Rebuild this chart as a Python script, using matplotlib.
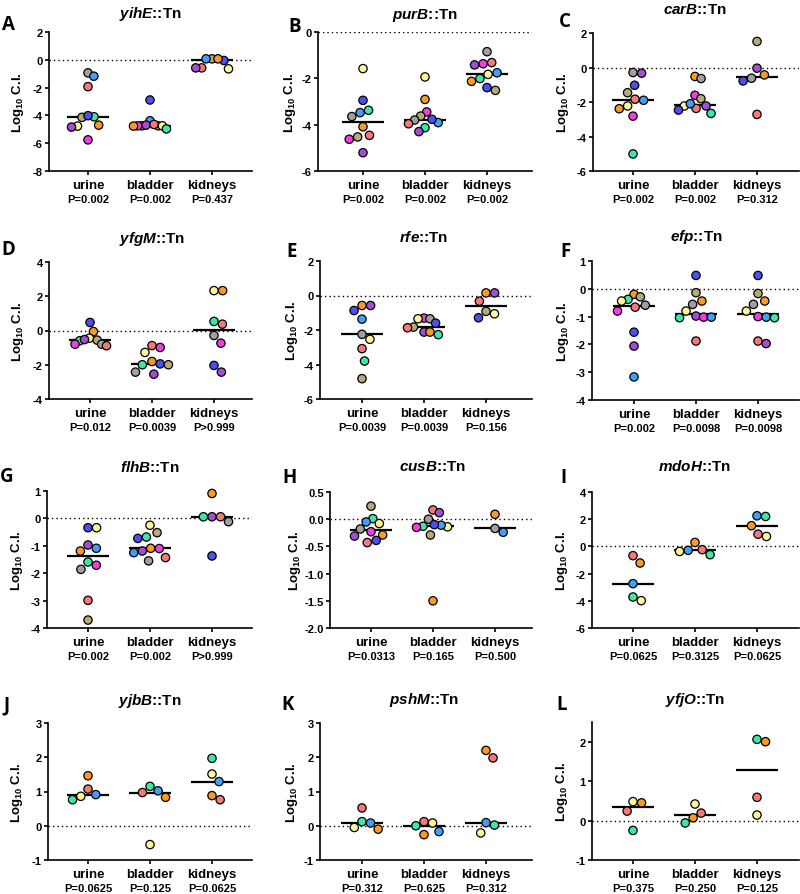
import numpy as np
import matplotlib
matplotlib.use('Agg')
import matplotlib.pyplot as plt
from matplotlib.ticker import FormatStrFormatter

plt.rcParams['font.family'] = ['Liberation Sans', 'DejaVu Sans']
plt.rcParams['font.weight'] = 'bold'
plt.rcParams['axes.unicode_minus'] = False
plt.rcParams['mathtext.fontset'] = 'custom'
plt.rcParams['mathtext.rm'] = 'Liberation Sans:bold'
plt.rcParams['mathtext.it'] = 'Liberation Sans:italic:bold'
plt.rcParams['mathtext.bf'] = 'Liberation Sans:bold'

# ---------------- data ----------------
groups = ['urine', 'bladder', 'kidneys']
COLORS = {'gr': '#a0a0a0', 'tn': '#b7a979', 'bl': '#4d50ec', 'lb': '#40a0f8',
          'sa': '#f47a7a', 'mi': '#3ce8a4', 'or': '#f89a2a', 'ye': '#fff59a',
          'pu': '#a24fd2', 'ma': '#f23ee0'}

yihE_urine = [('gr', -0.94), ('lb', -1.18), ('sa', -1.93), ('tn', -4.14), ('mi', -4.10),
              ('bl', -4.02), ('or', -4.70), ('ye', -4.77), ('pu', -4.84), ('ma', -5.76)]
yihE_bladder = [('bl', -2.89), ('lb', -4.39), ('gr', -4.75), ('tn', -4.75), ('ma', -4.75),
                ('ye', -4.75), ('pu', -4.70), ('or', -4.77), ('sa', -4.65), ('mi', -4.97)]
yihE_kidneys = [('tn', 0.07), ('bl', -0.05), ('sa', -0.58), ('or', 0.07), ('pu', -0.58),
                ('lb', 0.07), ('ye', -0.65)]
yihE_p = ['P=0.002', 'P=0.002', 'P=0.437']

purB_urine = [('ye', -1.58), ('bl', -2.95), ('mi', -3.38), ('lb', -3.48), ('gr', -3.65),
              ('or', -4.09), ('sa', -4.46), ('tn', -4.53), ('ma', -4.63), ('pu', -5.21)]
purB_bladder = [('ye', -1.94), ('or', -2.91), ('ma', -3.45), ('tn', -3.63), ('gr', -3.80),
                ('lb', -3.91), ('sa', -3.96), ('bl', -3.77), ('mi', -4.13), ('pu', -4.30)]
purB_kidneys = [('gr', -0.85), ('sa', -1.32), ('ma', -1.37), ('pu', -1.42), ('ye', -1.83),
                ('lb', -1.76), ('mi', -2.01), ('or', -2.13), ('bl', -2.40), ('tn', -2.52)]
purB_p = ['P=0.002', 'P=0.002', 'P=0.002']

carB_urine = [('pu', -0.33), ('gr', -0.29), ('bl', -1.03), ('tn', -1.46), ('lb', -1.90),
              ('sa', -1.84), ('ye', -2.23), ('or', -2.39), ('ma', -2.82), ('mi', -5.01)]
carB_bladder = [('or', -0.52), ('gr', -0.64), ('ma', -1.61), ('tn', -1.81), ('ye', -2.23),
                ('pu', -2.23), ('sa', -2.37), ('lb', -2.10), ('bl', -2.47), ('mi', -2.66)]
carB_kidneys = [('tn', 1.51), ('pu', -0.04), ('or', -0.43), ('gr', -0.62), ('bl', -0.78),
                ('sa', -2.72)]
carB_p = ['P=0.002', 'P=0.002', 'P=0.312']

yfgM_urine = [('bl', 0.47), ('or', -0.06), ('tn', -0.56), ('mi', -0.60), ('ye', -0.45),
              ('pu', -0.53), ('gr', -0.80), ('ma', -0.80), ('sa', -0.89)]
yfgM_bladder = [('sa', -0.88), ('ma', -0.99), ('ye', -1.28), ('bl', -1.95), ('mi', -2.00),
                ('or', -1.81), ('tn', -2.00), ('gr', -2.43), ('pu', -2.55)]
yfgM_kidneys = [('ye', 2.33), ('or', 2.33), ('sa', 0.37), ('mi', 0.53), ('gr', -0.29),
                ('ma', -0.74), ('bl', -2.04), ('pu', -2.43)]
yfgM_p = ['P=0.012', 'P=0.0039', 'P>0.999']

rfe_urine = [('or', -0.58), ('pu', -0.58), ('bl', -0.87), ('lb', -1.37), ('gr', -2.25),
             ('ye', -2.54), ('sa', -3.08), ('mi', -3.80), ('tn', -4.82)]
rfe_bladder = [('ma', -1.31), ('gr', -1.35), ('ye', -1.35), ('bl', -1.60), ('tn', -1.83),
               ('sa', -1.87), ('pu', -2.12), ('or', -2.12), ('mi', -2.27)]
rfe_kidneys = [('or', 0.15), ('pu', 0.15), ('sa', -0.33), ('tn', -0.92), ('ye', -1.06),
               ('bl', -1.29)]
rfe_p = ['P=0.0039', 'P=0.0039', 'P=0.156']

efp_urine = [('or', -0.20), ('tn', -0.29), ('mi', -0.38), ('ye', -0.44), ('sa', -0.66),
             ('gr', -0.59), ('ma', -0.80), ('bl', -1.56), ('pu', -2.06), ('lb', -3.17)]
efp_bladder = [('bl', 0.48), ('tn', -0.14), ('or', -0.44), ('gr', -0.56), ('ye', -0.80),
               ('pu', -0.98), ('ma', -1.02), ('lb', -1.02), ('mi', -1.04), ('sa', -1.88)]
efp_kidneys = [('bl', 0.48), ('tn', -0.17), ('or', -0.44), ('gr', -0.56), ('ye', -0.80),
               ('ma', -1.00), ('lb', -1.02), ('mi', -1.04), ('sa', -1.88), ('pu', -1.97)]
efp_p = ['P=0.002', 'P=0.0098', 'P=0.0098']

flhB_urine = [('bl', -0.34), ('ye', -0.34), ('pu', -0.97), ('lb', -1.09), ('or', -1.19),
              ('mi', -1.59), ('ma', -1.71), ('gr', -1.86), ('sa', -2.99), ('tn', -3.71)]
flhB_bladder = [('ye', -0.25), ('tn', -0.52), ('mi', -0.68), ('bl', -0.73), ('ma', -1.10),
                ('pu', -1.19), ('or', -1.09), ('lb', -1.25), ('sa', -1.43), ('gr', -1.55)]
flhB_kidneys = [('or', 0.91), ('pu', 0.06), ('sa', 0.06), ('mi', 0.06), ('gr', -0.12),
                ('bl', -1.37)]
flhB_p = ['P=0.002', 'P=0.002', 'P>0.999']

cusB_urine = [('tn', 0.24), ('mi', 0.01), ('lb', -0.05), ('ye', -0.08), ('gr', -0.18),
              ('ma', -0.23), ('or', -0.29), ('pu', -0.31), ('bl', -0.39), ('sa', -0.43)]
cusB_bladder = [('sa', 0.17), ('pu', 0.12), ('gr', 0.00), ('mi', -0.13), ('ye', -0.14),
                ('ma', -0.15), ('lb', -0.11), ('bl', -0.10), ('tn', -0.29), ('or', -1.50)]
cusB_kidneys = [('or', 0.09), ('gr', -0.17), ('lb', -0.24)]
cusB_p = ['P=0.0313', 'P=0.165', 'P=0.500']

mdoH_urine = [('sa', -0.68), ('or', -1.22), ('lb', -2.74), ('mi', -3.72), ('ye', -3.99)]
mdoH_bladder = [('or', 0.29), ('sa', -0.24), ('lb', -0.29), ('ye', -0.37), ('mi', -0.61)]
mdoH_kidneys = [('lb', 2.25), ('mi', 2.20), ('or', 1.52), ('sa', 0.90), ('ye', 0.73)]
mdoH_p = ['P=0.0625', 'P=0.3125', 'P=0.0625']

yjbB_urine = [('or', 1.46), ('sa', 1.07), ('lb', 0.91), ('ye', 0.86), ('mi', 0.76)]
yjbB_bladder = [('mi', 1.15), ('lb', 1.02), ('sa', 0.97), ('or', 0.83), ('ye', -0.55)]
yjbB_kidneys = [('mi', 1.97), ('ye', 1.51), ('lb', 1.29), ('or', 0.88), ('sa', 0.76)]
yjbB_p = ['P=0.0625', 'P=0.125', 'P=0.0625']

pshM_urine = [('sa', 0.52), ('mi', 0.12), ('lb', 0.08), ('ye', -0.05), ('or', -0.10)]
pshM_bladder = [('ye', 0.08), ('sa', 0.12), ('mi', 0.00), ('lb', -0.17), ('or', -0.26)]
pshM_kidneys = [('or', 2.20), ('sa', 1.98), ('lb', 0.09), ('mi', 0.02), ('ye', -0.21)]
pshM_p = ['P=0.312', 'P=0.625', 'P=0.312']

yfjO_urine = [('ye', 0.48), ('or', 0.45), ('sa', 0.24), ('mi', -0.25)]
yfjO_bladder = [('ye', 0.42), ('sa', 0.19), ('or', 0.07), ('mi', -0.06)]
yfjO_kidneys = [('mi', 2.06), ('or', 2.00), ('sa', 0.59), ('ye', 0.14)]
yfjO_p = ['P=0.375', 'P=0.250', 'P=0.125']

# ---------------- layout (pixels) ----------------
W, H = 800, 895
SP = 62.0  # px per category step

panels = [
    dict(letter='A', gene='yihE', data=(yihE_urine, yihE_bladder, yihE_kidneys), p=yihE_p,
         ylim=(-8, 2), yt=np.arange(-8, 3, 2), fmt='%d',
         box=(88, 49, 252, 33, 172), ty=14, lxy=(8, 25), ylx=18),
    dict(letter='B', gene='purB', data=(purB_urine, purB_bladder, purB_kidneys), p=purB_p,
         ylim=(-6, 0), yt=np.arange(-6, 1, 2), fmt='%d',
         box=(363, 318, 532, 33, 172), ty=15, lxy=(295, 27), ylx=290),
    dict(letter='C', gene='carB', data=(carB_urine, carB_bladder, carB_kidneys), p=carB_p,
         ylim=(-6, 2), yt=np.arange(-6, 3, 2), fmt='%d',
         box=(633, 593, 799, 34, 172), ty=10, lxy=(565, 22), ylx=563),
    dict(letter='D', gene='yfgM', data=(yfgM_urine, yfgM_bladder, yfgM_kidneys), p=yfgM_p,
         ylim=(-4, 4), yt=np.arange(-4, 5, 2), fmt='%d',
         box=(90, 49, 252, 263, 400), ty=239, lxy=(8, 250), ylx=18),
    dict(letter='E', gene='rfe', data=(rfe_urine, rfe_bladder, rfe_kidneys), p=rfe_p,
         ylim=(-6, 2), yt=np.arange(-6, 3, 2), fmt='%d',
         box=(362, 320, 532, 262, 400), ty=237, lxy=(292, 252), ylx=292),
    dict(letter='F', gene='efp', data=(efp_urine, efp_bladder, efp_kidneys), p=efp_p,
         ylim=(-4, 1), yt=np.arange(-4, 2, 1), fmt='%d',
         box=(634, 592, 799, 262, 401), ty=237, lxy=(565, 252), ylx=563),
    dict(letter='G', gene='flhB', data=(flhB_urine, flhB_bladder, flhB_kidneys), p=flhB_p,
         ylim=(-4, 1), yt=np.arange(-4, 2, 1), fmt='%d',
         box=(88, 47, 252, 492, 629), ty=468, lxy=(7, 477), ylx=17),
    dict(letter='H', gene='cusB', data=(cusB_urine, cusB_bladder, cusB_kidneys), p=cusB_p,
         ylim=(-2, 0.5), yt=np.arange(-2, 0.51, 0.5), fmt='%.1f',
         box=(371, 330, 532, 493, 629), ty=467, lxy=(290, 478), ylx=295),
    dict(letter='I', gene='mdoH', data=(mdoH_urine, mdoH_bladder, mdoH_kidneys), p=mdoH_p,
         ylim=(-6, 4), yt=np.arange(-6, 5, 2), fmt='%d',
         box=(633, 592, 799, 493, 629), ty=467, lxy=(563, 478), ylx=562),
    dict(letter='J', gene='yjbB', data=(yjbB_urine, yjbB_bladder, yjbB_kidneys), p=yjbB_p,
         ylim=(-1, 3), yt=np.arange(-1, 4, 1), fmt='%d',
         box=(88, 48, 252, 724, 861), ty=701, lxy=(6, 705), ylx=17),
    dict(letter='K', gene='pshM', data=(pshM_urine, pshM_bladder, pshM_kidneys), p=pshM_p,
         ylim=(-1, 3), yt=np.arange(-1, 4, 1), fmt='%d',
         box=(362, 320, 532, 724, 861), ty=700, lxy=(288, 705), ylx=292),
    dict(letter='L', gene='yfjO', data=(yfjO_urine, yfjO_bladder, yfjO_kidneys), p=yfjO_p,
         ylim=(-1, 2.5), yt=np.arange(-1, 3, 1), fmt='%d',
         box=(633, 592, 799, 723, 861), ty=700, lxy=(562, 705), ylx=562),
]

MS_S = 36          # marker area (pt^2)
DX = 8.6           # swarm horizontal spacing (px)
DY = 13.0          # swarm vertical reach (px)
XMAX = 16.5        # max half-spread of a group (px)
HALF = 0.34        # median half-width (category units)


def swarm(ypx, dX, dY):
    order = np.argsort(-np.asarray(ypx), kind='stable')
    placed = []
    xs = np.zeros(len(ypx))
    for i in order:
        y = ypx[i]
        cands = [0.0]
        for (px, py) in placed:
            r = abs(py - y) / dY
            if r < 1:
                dx = dX * np.sqrt(1 - r * r)
                cands += [px + dx, px - dx]
        cands.sort(key=lambda c: (round(abs(c), 3), -c))
        for c in cands:
            if all(((c - px) / dX) ** 2 + ((y - py) / dY) ** 2 >= 1 - 1e-6 for px, py in placed):
                xs[i] = c
                break
        placed.append((xs[i], y))
    m = np.max(np.abs(xs))
    if m > XMAX:
        xs = xs * XMAX / m
    return xs


fig = plt.figure(figsize=(W / 100, H / 100), dpi=100)

for pn in panels:
    ux, lft, rgt, top, bot = pn['box']
    ax = fig.add_axes([lft / W, 1 - bot / H, (rgt - lft) / W, (bot - top) / H])
    ax.set_xlim(-(ux - lft) / SP, (rgt - ux) / SP)
    ax.set_ylim(*pn['ylim'])
    for s in ['top', 'right']:
        ax.spines[s].set_visible(False)
    for s in ['left', 'bottom']:
        ax.spines[s].set_linewidth(1.2)
    ax.axhline(0, color='black', lw=1.0, ls=(0, (1, 2.2)), zorder=1)
    ax.set_yticks(pn['yt'])
    ax.yaxis.set_major_formatter(FormatStrFormatter(pn['fmt']))
    ax.set_xticks([0, 1, 2])
    ax.set_xticklabels([])
    ax.tick_params(axis='both', length=3, width=1.2, direction='out', pad=1.5,
                   labelsize=8)
    for lab in ax.get_yticklabels():
        lab.set_fontweight('bold')

    xppu = ax.bbox.width / (ax.get_xlim()[1] - ax.get_xlim()[0])
    for gi, grp in enumerate(pn['data']):
        cols = [COLORS[c] for c, v in grp]
        vals = np.array([v for c, v in grp])
        ypx = ax.transData.transform(np.column_stack([np.zeros(len(vals)), vals]))[:, 1]
        offs = swarm(ypx, DX, DY) / xppu
        ax.scatter(gi + offs, vals, s=MS_S, c=cols, edgecolors='black', linewidths=0.9,
                   zorder=3, clip_on=False)
        med = np.median(vals)
        ax.plot([gi - HALF, gi + HALF], [med, med], color='black', lw=1.6, zorder=2,
                solid_capstyle='butt')
        ax.annotate(groups[gi], xy=(gi, 0), xycoords=('data', 'axes fraction'),
                    xytext=(0, -9.8), textcoords='offset points', ha='center', va='center',
                    fontsize=9.5, fontweight='bold')
        ax.annotate(pn['p'][gi], xy=(gi, 0), xycoords=('data', 'axes fraction'),
                    xytext=(0, -20.3), textcoords='offset points', ha='center', va='center',
                    fontsize=8, fontweight='bold')

    tx = ux + SP
    fig.text(tx / W, 1 - pn['ty'] / H, r'$\mathit{' + pn['gene'] + '}$::Tn',
             ha='center', va='center', fontsize=11, fontweight='bold')
    fig.text(pn['lxy'][0] / W, 1 - pn['lxy'][1] / H, pn['letter'], ha='center', va='center',
             fontsize=13.5, fontweight='bold', family=['Open Sans', 'DejaVu Sans'])
    fig.text(pn['ylx'] / W, 1 - ((top + bot) / 2) / H, r'Log$_{\mathregular{10}}$ C.I.',
             rotation=90, ha='center', va='center', fontsize=9.5, fontweight='bold')

fig.savefig('out.png', dpi=100, facecolor='white')
